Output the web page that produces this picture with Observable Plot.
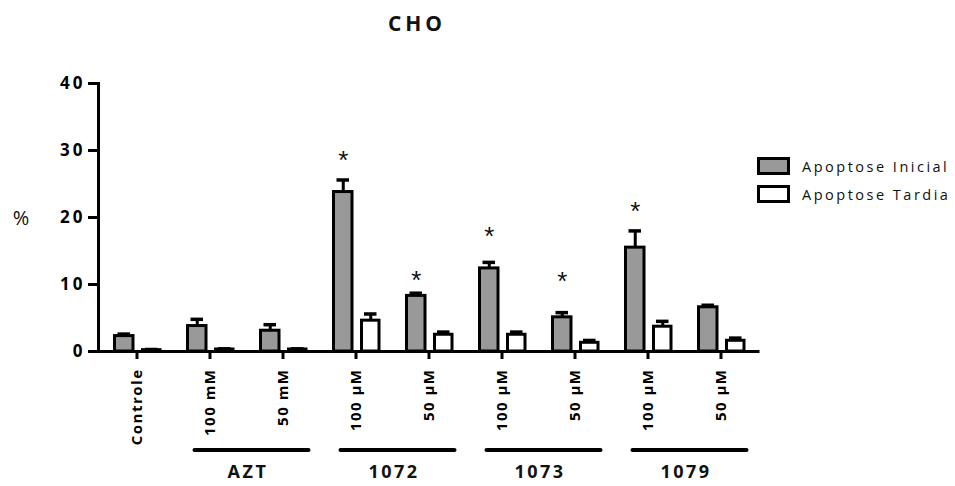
<!DOCTYPE html>
<html><head><meta charset="utf-8">
<script src="https://cdn.jsdelivr.net/npm/d3@7"></script>
<script src="https://cdn.jsdelivr.net/npm/@observablehq/plot@0.6"></script>
<style>
body{margin:0;background:#fff}
#chart{width:955px;height:486px}
g[aria-label="x-axis tick label"] text{letter-spacing:1.5px}
g[aria-label="y-axis tick label"] text{letter-spacing:3px}
</style>
</head><body><div id="chart"></div>
<script>
const categories = ["Controle","AZT-100","AZT-50","1072-100","1072-50","1073-100","1073-50","1079-100","1079-50"];
const tickLabels = ["Controle","100 mM","50 mM","100 µM","50 µM","100 µM","50 µM","100 µM","50 µM"];
const inicial    = [2.3, 3.8, 3.1, 23.8, 8.3, 12.4, 5.1, 15.5, 6.6];
const inicialErr = [0.3, 1.0, 0.9, 1.8, 0.4, 0.9, 0.7, 2.5, 0.3];
const tardia     = [0.2, 0.3, 0.3, 4.6, 2.5, 2.5, 1.3, 3.7, 1.6];
const tardiaErr  = [0.1, 0.1, 0.1, 1.0, 0.4, 0.4, 0.35, 0.8, 0.4];
// significance asterisk heights (in % units), null = no asterisk
const starY = [null, null, null, 28.9, 11.0, 17.6, 10.9, 21.3, null];
const groupNames = ["AZT", "1072", "1073", "1079"];
const groupFrom  = ["AZT-100", "1072-100", "1073-100", "1079-100"];
const groupTo    = ["AZT-50", "1072-50", "1073-50", "1079-50"];
const yTicks = [0, 10, 20, 30, 40];
const seriesNames = ["Apoptose Inicial", "Apoptose Tardia"];
const seriesFill = ["#999999", "#ffffff"];

const FONT = "'Open Sans', sans-serif";

const rows = categories.map((c, i) => ({
  cat: c, ini: inicial[i], iniE: inicialErr[i], tar: tardia[i], tarE: tardiaErr[i], star: starY[i]
}));

const W = 955, H = 486;
const BW = 73.5; // band width in px (layout)
const plot = Plot.plot({
  width: W, height: H,
  marginLeft: 98, marginRight: W - 98 - BW * 9, marginTop: 83, marginBottom: 135,
  x: {domain: categories, padding: 0},
  y: {domain: [0, 40]},
  style: {fontFamily: FONT, background: "#fff", color: "#000"},
  marks: [
    Plot.barY(rows, {x: "cat", y: "ini", fill: seriesFill[0], stroke: "#000", strokeWidth: 3, insetLeft: 14.5, insetRight: 40}),
    Plot.barY(rows, {x: "cat", y: "tar", fill: seriesFill[1], stroke: "#000", strokeWidth: 3, insetLeft: 42.5, insetRight: 13}),
    Plot.ruleX(rows, {x: "cat", y1: "ini", y2: d => d.ini + d.iniE, dx: -12.75, stroke: "#000", strokeWidth: 3}),
    Plot.tickY(rows, {x: "cat", y: d => d.ini + d.iniE, insetLeft: 17.5, insetRight: 43, stroke: "#000", strokeWidth: 3.5}),
    Plot.ruleX(rows, {x: "cat", y1: "tar", y2: d => d.tar + d.tarE, dx: 14.75, stroke: "#000", strokeWidth: 3}),
    Plot.tickY(rows, {x: "cat", y: d => d.tar + d.tarE, insetLeft: 45, insetRight: 15.5, stroke: "#000", strokeWidth: 3.5}),
    Plot.text(rows.filter(d => d.star != null), {x: "cat", y: "star", text: () => "*", dx: -12.75, dy: 3, fontSize: 26, fill: "#111", fontFamily: "'Liberation Sans', sans-serif"}),
    Plot.ruleY([0], {stroke: "#000", strokeWidth: 3}),
    Plot.frame({anchor: "left", stroke: "#000", strokeWidth: 3}),
    Plot.axisY({ticks: yTicks, tickSize: 10, tickPadding: 3, fontSize: 17, fontWeight: "bold", strokeWidth: 3, label: null}),
    Plot.axisX({tickRotate: -90, tickFormat: d => tickLabels[categories.indexOf(d)], tickSize: 8, tickPadding: 9, fontSize: 15, fontWeight: "bold", strokeWidth: 3, label: null})
  ]
});
document.getElementById("chart").appendChild(plot);

const svg = d3.select(plot);
const xs = plot.scale("x"), ys = plot.scale("y");
const cx = v => xs.apply(v) + xs.bandwidth / 2;
const y0 = ys.apply(0);

// group brackets
groupNames.forEach((g, i) => {
  const a = cx(groupFrom[i]), b = cx(groupTo[i]);
  svg.append("line").attr("x1", a - 15).attr("x2", b + 26).attr("y1", y0 + 99).attr("y2", y0 + 99)
    .attr("stroke", "#000").attr("stroke-width", 4).attr("stroke-linecap", "round");
  svg.append("text").attr("x", (a + b) / 2 + 2).attr("y", y0 + 127).attr("text-anchor", "middle")
    .attr("font-family", FONT).attr("font-size", 18).attr("font-weight", "bold").attr("letter-spacing", "2.5px").attr("fill", "#111").text(g);
});

// title
svg.append("text").attr("x", 417).attr("y", 31).attr("text-anchor", "middle")
  .attr("font-family", FONT).attr("font-size", 21).attr("font-weight", "bold").attr("letter-spacing", "4px").attr("fill", "#111").text("CHO");

// y label
svg.append("text").attr("x", 21).attr("y", 225).attr("text-anchor", "middle")
  .attr("font-family", FONT).attr("font-size", 20).attr("fill", "#111").text("%");

// legend
seriesNames.forEach((s, i) => {
  const top = 158.5 + i * 28;
  svg.append("rect").attr("x", 758.5).attr("y", top).attr("width", 30).attr("height", 15)
    .attr("fill", seriesFill[i]).attr("stroke", "#000").attr("stroke-width", 3);
  svg.append("text").attr("x", 802).attr("y", top + 13).attr("text-anchor", "start")
    .attr("font-family", FONT).attr("font-size", 14.5).attr("letter-spacing", "2.5px").attr("fill", "#111").text(s);
});
</script>
</body></html>
